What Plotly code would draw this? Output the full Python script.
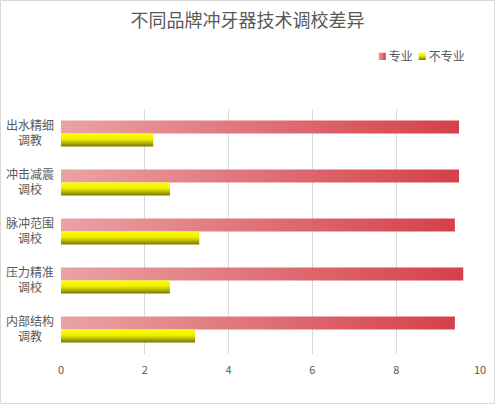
import plotly.graph_objects as go

categories = ["出水精细<br>调教\u3000", "冲击减震<br>调校\u3000", "脉冲范围<br>调校\u3000", "压力精准<br>调校\u3000", "内部结构<br>调教\u3000"]
pro_values = [9.5, 9.5, 9.4, 9.6, 9.4]
nonpro_values = [2.2, 2.6, 3.3, 2.6, 3.2]
series_names = ["专业", "不专业"]
x_ticks = [0, 2, 4, 6, 8, 10]

FONT = "Noto Sans CJK SC"
TXT = "#595959"

fig = go.Figure()
fig.add_trace(go.Bar(y=categories, x=pro_values, name=series_names[0], orientation="h",
                     marker=dict(color="#E07076", line=dict(width=0))))
fig.add_trace(go.Bar(y=categories, x=nonpro_values, name=series_names[1], orientation="h",
                     marker=dict(color="#D8D400", line=dict(width=0))))

fig.update_layout(
    width=495, height=404,
    margin=dict(l=61, r=15, t=109, b=50, autoexpand=False),
    paper_bgcolor="white", plot_bgcolor="white",
    barmode="group", bargap=0.47, bargroupgap=0,
    font=dict(family=FONT, color=TXT, size=12),
    title=dict(text="不同品牌冲牙器技术调校差异", x=0.5, xanchor="center", y=0.95, yanchor="middle",
               font=dict(family=FONT, size=18, color=TXT)),
    legend=dict(orientation="h", x=1.047, xanchor="right", y=1.215, yanchor="middle",
                font=dict(size=12, color=TXT), itemwidth=30, traceorder="normal",
                bgcolor="rgba(0,0,0,0)"),
    xaxis=dict(range=[0, 10], tickvals=x_ticks, showgrid=True, gridcolor="#D9D9D9", gridwidth=1,
               zeroline=False, showline=False, tickfont=dict(size=11, color=TXT), ticks="",
               ticklabelstandoff=8, automargin=False),
    yaxis=dict(autorange="reversed", showgrid=False, zeroline=False, showline=False, ticks="",
               tickfont=dict(size=12, color=TXT), ticklabelstandoff=6, automargin=False),
    shapes=[dict(type="rect", xref="paper", yref="paper", x0=-60.5/419, x1=1+14.5/419,
                 y0=-49.5/245, y1=1+108.5/245, line=dict(color="#D9D9D9", width=1))],
)

post = """
document.body.style.margin = '0';
document.body.style.padding = '0';
var gd = document.getElementById('{plot_id}');
function parseT(s){
  var m = /translate\\(\\s*([-\\d.eE]+)[ ,]+([-\\d.eE]+)\\s*\\)/.exec(s || '');
  return m ? [parseFloat(m[1]), parseFloat(m[2])] : [0, 0];
}
function applyGrad(){
  var svg = gd.querySelector('.main-svg');
  if(!svg) return;
  var defs = svg.querySelector('defs');
  var ns = 'http://www.w3.org/2000/svg';
  if(!document.getElementById('gradR')){
    function mk(id, x2, y2, stops){
      var g = document.createElementNS(ns, 'linearGradient');
      g.setAttribute('id', id);
      g.setAttribute('x1', '0'); g.setAttribute('y1', '0');
      g.setAttribute('x2', x2); g.setAttribute('y2', y2);
      stops.forEach(function(s){
        var st = document.createElementNS(ns, 'stop');
        st.setAttribute('offset', s[0]); st.setAttribute('stop-color', s[1]);
        g.appendChild(st);
      });
      defs.appendChild(g);
    }
    mk('gradR', '1', '0', [['0', '#EAA3A5'], ['1', '#D5404A']]);
    mk('gradY', '0', '1', [['0', '#FFFF00'], ['0.45', '#EEEE00'], ['1', '#787800']]);
  }
  var ids = ['gradR', 'gradY'];
  gd.querySelectorAll('.barlayer .trace').forEach(function(t, i){
    t.querySelectorAll('path').forEach(function(p){ p.style.fill = 'url(#' + ids[i % 2] + ')'; });
  });
  gd.querySelectorAll('.legend .traces').forEach(function(t, i){
    var cur = t.getAttribute('transform');
    if(t.__mine !== cur){
      var xy = parseT(cur);
      var nt = 'translate(' + (xy[0] - i * 29) + ',' + xy[1] + ')';
      t.setAttribute('transform', nt);
      t.__mine = nt;
    }
    t.querySelectorAll('.legendpoints path').forEach(function(p){
      p.style.fill = 'url(#' + ids[i % 2] + ')';
      var pc = p.getAttribute('transform');
      if(p.__mine !== pc){
        var pxy = parseT(pc);
        var np = 'translate(' + (pxy[0] + 13.5) + ',' + pxy[1] + ') scale(0.6)';
        p.setAttribute('transform', np);
        p.__mine = np;
      }
    });
  });
}
applyGrad();
gd.on('plotly_afterplot', applyGrad);
"""

fig.write_html("out.html", post_script=post, config={"displayModeBar": False})
